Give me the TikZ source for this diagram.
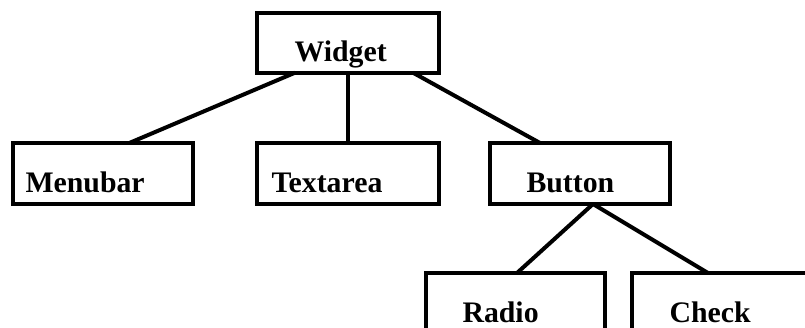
\documentclass[tikz,border=0pt]{standalone}
\usepackage{fontspec}
\setmainfont{Liberation Serif}
\begin{document}
\begin{tikzpicture}[x=1pt,y=-1pt,
  box/.style={draw=black,line width=4pt,rectangle,inner sep=0pt,outer sep=0pt,minimum height=61pt},
  lbl/.style={anchor=base west,inner sep=0pt,outer sep=0pt,font=\fontsize{29.8}{32}\selectfont\bfseries},
  link/.style={draw=black,line width=4pt}]
\useasboundingbox (0,0) rectangle (805,328);
\clip (0,0) rectangle (805,328);
\node[box,minimum width=182pt,minimum height=59.7pt] (widget) at (348,42.85) {};
\node[box,minimum width=180.3pt,minimum height=61.3pt] (menubar) at (102.85,173.35) {};
\node[box,minimum width=182pt] (textarea) at (348,173.5) {};
\node[box,minimum width=180pt] (button) at (580,173.5) {};
\node[box,minimum width=179pt] (radio) at (515.5,303.5) {};
\node[box,minimum width=220pt] (check) at (742,303.5) {};
\node[lbl] (tw) at (294.5,61.8) {Widget};
\node[lbl] (tm) at (25.5,193) {Menubar};
\node[lbl] (tt) at (271.5,193) {Textarea};
\node[lbl] (tb) at (526.5,193) {Button};
\node[lbl] (tr) at (462.5,323) {Radio};
\node[lbl] (tc) at (669.5,323) {Check};
\draw[link] ([xshift=-53pt]widget.south) -- ([xshift=27.15pt]menubar.north);
\draw[link] (widget.south) -- (textarea.north);
\draw[link] ([xshift=65pt]widget.south) -- ([xshift=-40pt]button.north);
\draw[link] ([xshift=13pt]button.south) -- ([xshift=1.5pt]radio.north);
\draw[link] ([xshift=13pt]button.south) -- ([xshift=-34pt]check.north);
\end{tikzpicture}
\end{document}
